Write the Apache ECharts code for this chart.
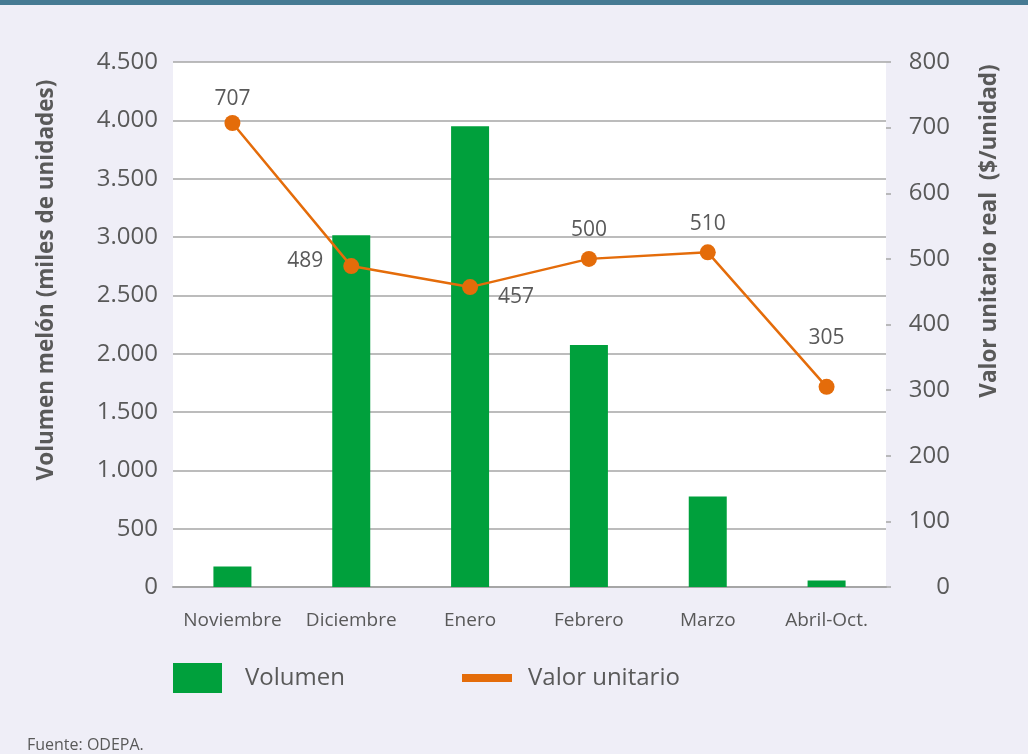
<!DOCTYPE html>
<html>
<head>
<meta charset="utf-8">
<script src="https://cdn.jsdelivr.net/npm/echarts@6/dist/echarts.min.js"></script>
<style>
  html, body { margin: 0; padding: 0; background: #efeef7; }
  #chart { width: 1028px; height: 754px; }
</style>
</head>
<body>
<div id="chart"></div>
<script>
// datos
const meses = ["Noviembre", "Diciembre", "Enero", "Febrero", "Marzo", "Abril-Oct."];
const volumen = [175, 3015, 3950, 2075, 775, 55];
const valorUnitario = [707, 489, 457, 500, 510, 305];
const volumenTicks = { min: 0, max: 4500, interval: 500 };
const valorTicks = { min: 0, max: 800, interval: 100 };

const gris = "#595959";
const font = "Open Sans";

// posicion de cada etiqueta del valor unitario
const etiquetas = [
  { position: "top", distance: 6 },
  { position: "left", distance: 20, offset: [0, -5] },
  { position: "right", distance: 20, offset: [0, 10] },
  { position: "top", distance: 10 },
  { position: "top", distance: 10 },
  { position: "top", distance: 30 },
];

const chart = echarts.init(document.getElementById("chart"));

const option = {
  backgroundColor: "#efeef7",
  textStyle: { fontFamily: font, color: gris },
  grid: {
    left: 173,
    right: 142,
    top: 62,
    bottom: 167,
    show: true,
    backgroundColor: "#ffffff",
    borderWidth: 0,
  },
  legend: [
    {
      data: [{ name: "Volumen", icon: "rect" }],
      left: 173,
      top: 663,
      padding: 0,
      itemWidth: 49,
      itemHeight: 30,
      textStyle: { fontSize: 24, color: gris, fontFamily: font, padding: [0, 0, 0, 18] },
    },
    {
      data: [{ name: "Valor unitario", icon: "rect" }],
      left: 462,
      top: 666,
      padding: 0,
      itemWidth: 50,
      itemHeight: 8,
      textStyle: { fontSize: 24, color: gris, fontFamily: font, padding: [0, 0, 0, 11] },
    },
  ],
  xAxis: {
    type: "category",
    data: meses,
    axisTick: { show: false },
    axisLine: { lineStyle: { color: "#a6a6a6", width: 2 } },
    axisLabel: { color: gris, fontSize: 19, margin: 24, interval: 0, fontFamily: font },
  },
  yAxis: [
    {
      type: "value",
      min: volumenTicks.min,
      max: volumenTicks.max,
      interval: volumenTicks.interval,
      axisLine: { show: false },
      axisTick: { show: false },
      splitLine: { lineStyle: { color: "#a6a6a6", width: 1.5 } },
      axisLabel: {
        color: gris,
        fontSize: 24,
        margin: 15,
        fontFamily: font,
        formatter: (v) => v.toLocaleString("de-DE"),
      },
    },
    {
      type: "value",
      position: "right",
      min: valorTicks.min,
      max: valorTicks.max,
      interval: valorTicks.interval,
      axisLine: { show: false },
      axisTick: { show: true, length: 5, lineStyle: { color: "#a6a6a6", width: 1.5 } },
      splitLine: { show: false },
      axisLabel: { color: gris, fontSize: 24, margin: 64, align: "right", fontFamily: font },
    },
  ],
  series: [
    {
      name: "Volumen",
      type: "bar",
      data: volumen,
      barWidth: 38,
      itemStyle: { color: "#00a03c" },
    },
    {
      name: "Valor unitario",
      type: "line",
      yAxisIndex: 1,
      data: valorUnitario.map((v, i) => ({ value: v, label: etiquetas[i] })),
      symbol: "circle",
      symbolSize: 16,
      lineStyle: { color: "#e46c0a", width: 2.5 },
      itemStyle: { color: "#e46c0a" },
      label: { show: true, color: gris, fontSize: 21, fontFamily: font },
    },
  ],
  graphic: [
    {
      type: "rect",
      shape: { x: 0, y: 0, width: 1028, height: 5 },
      style: { fill: "#467a93" },
    },
    {
      type: "text",
      x: 47,
      y: 280,
      rotation: Math.PI / 2,
      style: {
        text: "Volumen melón (miles de unidades)",
        fontSize: 22.5,
        fontWeight: "bold",
        fontFamily: font,
        fill: gris,
        align: "center",
        verticalAlign: "middle",
      },
    },
    {
      type: "text",
      x: 990,
      y: 231,
      rotation: Math.PI / 2,
      style: {
        text: "Valor unitario real  ($/unidad)",
        fontSize: 22.5,
        fontWeight: "bold",
        fontFamily: font,
        fill: gris,
        align: "center",
        verticalAlign: "middle",
      },
    },
    {
      type: "text",
      x: 27,
      y: 745,
      style: {
        text: "Fuente: ODEPA.",
        fontSize: 16,
        fontFamily: font,
        fill: gris,
        align: "left",
        verticalAlign: "middle",
      },
    },
  ],
};

chart.setOption(option);
window.addEventListener("resize", () => chart.resize());
</script>
</body>
</html>
